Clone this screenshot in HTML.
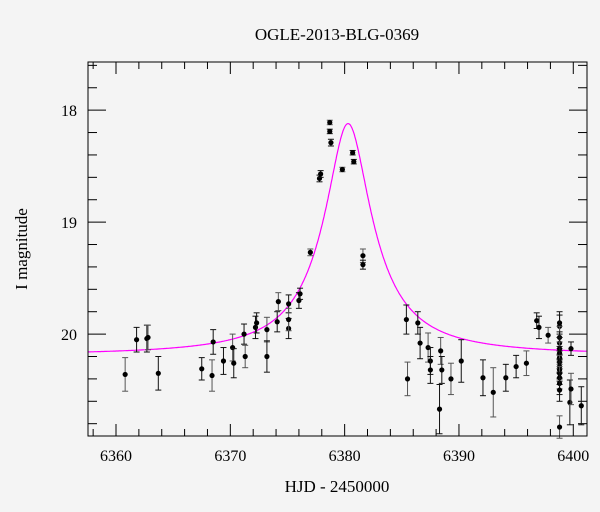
<!DOCTYPE html>
<html><head><meta charset="utf-8"><style>
html,body{margin:0;padding:0;background:#f4f4f4;}
svg{display:block;font-family:"Liberation Serif",serif;}
</style></head><body>
<svg id="chart" width="600" height="512" viewBox="0 0 600 512">
<rect x="0" y="0" width="600" height="512" fill="#f4f4f4"/>
<text x="337" y="40" font-size="17" text-anchor="middle">OGLE-2013-BLG-0369</text>
<text x="337" y="492" font-size="17" text-anchor="middle">HJD - 2450000</text>
<text transform="translate(27,249) rotate(-90)" font-size="17" text-anchor="middle">I magnitude</text>
<g id="ticks"></g>
<g id="curve"></g>
<g id="points"></g>
<rect x="88" y="62" width="499" height="374" fill="none" stroke="#000" stroke-width="1"/>
</svg>
<script>
const days=[6360.8,6361.8,6362.7,6362.8,6363.7,6367.5,6368.4,6368.5,6369.4,6370.2,6370.3,6371.2,6371.3,6372.2,6372.3,6373.2,6373.2,6374.1,6374.2,6375.1,6375.1,6375.1,6376.0,6376.1,6377.0,6377.8,6377.9,6378.7,6378.7,6378.8,6379.8,6380.7,6380.8,6381.6,6381.6,6385.4,6385.5,6386.4,6386.6,6387.3,6387.5,6387.5,6388.4,6388.5,6388.3,6389.3,6390.2,6392.1,6393.0,6394.1,6395.0,6395.9,6396.8,6397.0,6397.8,6398.8,6398.8,6398.8,6398.8,6398.8,6398.8,6398.8,6398.8,6398.8,6398.8,6398.8,6398.8,6398.8,6398.8,6398.8,6399.8,6399.7,6399.8,6400.7];
const mags=[20.36,20.05,20.04,20.03,20.35,20.31,20.37,20.07,20.24,20.12,20.26,20.0,20.2,19.94,19.9,19.96,20.2,19.89,19.71,19.73,19.95,19.87,19.70,19.64,19.27,18.61,18.57,18.11,18.19,18.29,18.53,18.38,18.46,19.30,19.38,19.87,20.40,19.90,20.08,20.12,20.24,20.32,20.15,20.32,20.67,20.40,20.24,20.39,20.52,20.39,20.29,20.26,19.88,19.94,20.01,19.90,19.93,20.03,20.08,20.13,20.17,20.21,20.25,20.29,20.32,20.35,20.39,20.44,20.50,20.83,20.13,20.61,20.49,20.64];
const errs=[0.15,0.11,0.12,0.11,0.15,0.10,0.14,0.11,0.12,0.12,0.13,0.09,0.10,0.10,0.09,0.11,0.14,0.09,0.08,0.08,0.09,0.10,0.07,0.05,0.03,0.03,0.03,0.02,0.02,0.03,0.02,0.02,0.02,0.06,0.04,0.13,0.15,0.10,0.14,0.13,0.12,0.12,0.12,0.12,0.22,0.14,0.19,0.16,0.22,0.12,0.10,0.11,0.07,0.10,0.07,0.10,0.10,0.10,0.10,0.10,0.10,0.10,0.10,0.10,0.10,0.10,0.10,0.10,0.10,0.10,0.06,0.20,0.14,0.17];
const xTicks=[6360,6370,6380,6390,6400];
const yTicks=[18,19,20];
const model={t0:6380.3,base:20.19,amp:5.73,width:1.62};
const X0=88,X1=587,Y0=62,Y1=436,dMin=6357.55,dMax=6401.2,mMin=17.57,mMax=20.91;
const sx=d=>X0+(d-dMin)/(dMax-dMin)*(X1-X0);
const sy=m=>Y0+(m-mMin)/(mMax-mMin)*(Y1-Y0);
const NS="http://www.w3.org/2000/svg";
function mk(tag,parent,attrs){const e=document.createElementNS(NS,tag);for(const k in attrs)e.setAttribute(k,attrs[k]);parent.appendChild(e);return e;}
const tg=document.getElementById('ticks');
for(let d=6358;d<=6400;d+=2){const major=d%10===0;const L=major?12:7;const x=sx(d);
 let t=mk('line',tg,{x1:x,x2:x,y1:Y1,y2:Y1-L,stroke:'#000'});
 
 
 let t2=mk('line',tg,{x1:x,x2:x,y1:Y0,y2:Y0+L,stroke:'#000'});
 
 }
xTicks.forEach(d=>{const l=mk('text',tg,{x:sx(d),y:461,'font-size':16,'text-anchor':'middle'});l.textContent=d;
 
 });
for(let i=0;i<=16;i++){const m=17.6+i*0.2;const major=Math.abs(m-Math.round(m))<0.01;const L=major?18:9;const y=sy(m);
 if(y<Y0||y>Y1)continue;
 let t=mk('line',tg,{x1:X0,x2:X0+L,y1:y,y2:y,stroke:'#000'});
 
 
 let t2=mk('line',tg,{x1:X1,x2:X1-L,y1:y,y2:y,stroke:'#000'});
 
 }
yTicks.forEach(m=>{const l=mk('text',tg,{x:77,y:sy(m)+6,'font-size':16,'text-anchor':'end'});l.textContent=m;
 
 });
let pts=[];for(let d=dMin;d<=dMax;d+=0.05){const dt=(d-model.t0)/model.width;const f=1+model.amp/(1+dt*dt);pts.push(sx(d).toFixed(1)+','+sy(model.base-2.5*Math.log10(f)).toFixed(1));}
const cv=mk('polyline',document.getElementById('curve'),{points:pts.join(' '),fill:'none',stroke:'#ff00ff','stroke-width':1.2});


const pg=document.getElementById('points');
days.forEach((d,i)=>{const x=sx(d),y=sy(mags[i]),ya=sy(mags[i]-errs[i]),yb=sy(mags[i]+errs[i]);
 const col=i%3===0?'#555':'#111';
 const g=mk('g',pg,{});
 
 
 mk('line',g,{x1:x,x2:x,y1:ya,y2:yb,stroke:col});
 mk('line',g,{x1:x-3,x2:x+3,y1:ya,y2:ya,stroke:col});
 mk('line',g,{x1:x-3,x2:x+3,y1:yb,y2:yb,stroke:col});
 mk('circle',g,{cx:x,cy:y,r:2.6,fill:'#000'});});
</script>
</body></html>
